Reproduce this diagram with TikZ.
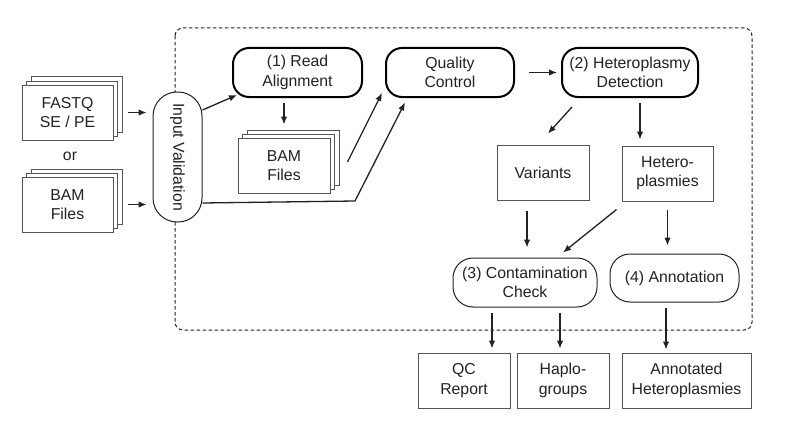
\documentclass[tikz,border=0pt]{standalone}
\usepackage{fontspec}
\setmainfont{Liberation Sans}
\usetikzlibrary{arrows.meta,shadows,calc}
\definecolor{ink}{HTML}{222222}
\definecolor{boxgray}{HTML}{555555}
\begin{document}
\begin{tikzpicture}[x=1pt,y=-1pt,
  font=\fontsize{15.8}{19.3}\selectfont, text=ink,
  box/.style={draw=boxgray, line width=1pt, fill=white, align=center, inner sep=0pt},
  stack/.style={box,
    copy shadow={shadow xshift=9pt,shadow yshift=8pt,draw=boxgray,fill=white,line width=1pt},
    copy shadow={shadow xshift=4.5pt,shadow yshift=4pt,draw=boxgray,fill=white,line width=1pt}},
  proc/.style={draw=black, fill=white, line width=2pt, rounded corners=16pt, align=center, inner sep=0pt},
  procthin/.style={draw=ink, fill=white, line width=1pt, rounded corners=20pt, align=center, inner sep=0pt},
  arr/.style={draw=ink, line width=1.3pt, -{Latex[length=8pt,width=6.5pt]}},
  frame/.style={draw=ink, line width=1pt, dash pattern=on 3.5pt off 2.5pt, rounded corners=8pt}
]
\useasboundingbox (0,0) rectangle (787,428);

% dashed frame
\draw[frame] (175,28) rectangle (752,330);

% inputs
\node[stack, minimum width=91pt, minimum height=55pt] (fastq) at (67.5,112.5) {FASTQ\\SE / PE};
\node (or) at (70,156) {or};
\node[stack, minimum width=91pt, minimum height=55pt] (bam1) at (67.5,204.5) {BAM\\Files};

% input validation
\node[draw=ink, fill=white, line width=1pt, rounded corners=24pt, rotate=-90,
      minimum width=130pt, minimum height=49pt, inner sep=0pt] (iv) at (177.5,157) {Input Validation};

% process nodes
\node[proc, minimum width=129pt, minimum height=49pt] (ra) at (297.5,72.5) {(1) Read\\Alignment};
\node[stack, minimum width=92pt, minimum height=55pt] (bam2) at (284,165.5) {BAM\\Files};
\node[proc, minimum width=128pt, minimum height=49pt] (qc) at (450,72.5) {Quality\\Control};
\node[proc, minimum width=136pt, minimum height=49pt] (hd) at (630,72.5) {(2) Heteroplasmy\\Detection};
\node[box, minimum width=92pt, minimum height=55pt] (var) at (543,172.5) {Variants};
\node[box, minimum width=91pt, minimum height=55pt] (het) at (667.5,173.5) {Hetero-\\plasmies};
\node[procthin, minimum width=144pt, minimum height=49pt] (cc) at (525,282.5) {(3) Contamination\\Check};
\node[procthin, minimum width=129pt, minimum height=48pt] (an) at (674.5,278) {(4) Annotation};

% outputs
\node[box, minimum width=92pt, minimum height=55pt] (qcr) at (464,380.5) {QC\\Report};
\node[box, minimum width=92pt, minimum height=55pt] (hap) at (563,380.5) {Haplo-\\groups};
\node[box, minimum width=129pt, minimum height=55pt] (ah) at (686.5,380.5) {Annotated\\Heteroplasmies};

% connectors
\draw[arr, shorten <=14pt, shorten >=6pt] (fastq.east) -- (fastq.east -| iv.south);
\draw[arr, shorten <=14pt, shorten >=6pt] (bam1.east) -- (bam1.east -| iv.south);
\draw[arr] ([yshift=47pt]iv.north) -- ([xshift=5pt,yshift=3pt]ra.south west);
\draw[arr, shorten <=5pt, shorten >=13pt] (ra.south -| bam2.north) -- (bam2.north);
\draw[arr] ([xshift=17pt,yshift=3.5pt]bam2.east) -- ([xshift=-3pt,yshift=5pt]qc.south west);
\coordinate (bend) at (355,201);
\draw[arr] ([yshift=-46pt]iv.north) -- (bend) -- ([xshift=20pt,yshift=-4.5pt]qc.south west);
\draw[arr, shorten <=14pt, shorten >=4pt] (qc.east) -- (hd.west);
\draw[arr] ([xshift=11pt,yshift=-9pt]hd.south west) -- ([xshift=5pt,yshift=11pt]var.north);
\draw[arr, shorten <=5pt, shorten >=6pt] ([xshift=10pt]hd.south) -- ([xshift=10pt]hd.south |- het.north);
\draw[arr, shorten <=10pt, shorten >=10pt] ([xshift=-16pt]var.south) -- ([xshift=-16pt]var.south |- cc.north);
\draw[arr] ([xshift=-5pt,yshift=-8pt]het.south west) -- ([xshift=38pt,yshift=5pt]cc.north);
\draw[arr, shorten <=8pt, shorten >=8pt] (het.south) -- (het.south |- an.north);
\draw[arr, shorten <=5pt, shorten >=4pt] ([xshift=28pt]qcr.north |- cc.south) -- ([xshift=28pt]qcr.north);
\draw[arr, shorten <=5pt, shorten >=4pt] ([xshift=-3pt]hap.north |- cc.south) -- ([xshift=-3pt]hap.north);
\draw[arr, shorten <=5pt, shorten >=3pt] ([xshift=-20.5pt]ah.north |- an.south) -- ([xshift=-20.5pt]ah.north);
\end{tikzpicture}
\end{document}
